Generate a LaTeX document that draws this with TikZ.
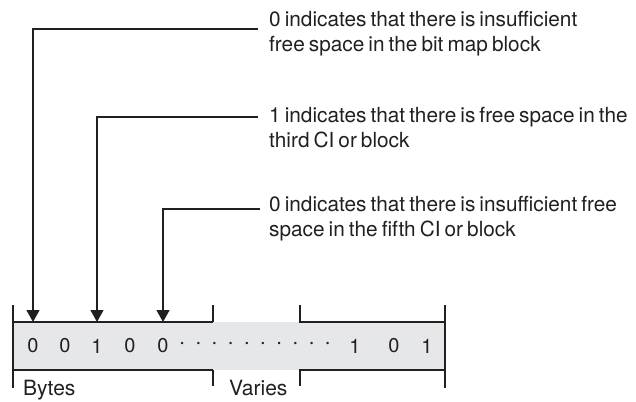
\documentclass[tikz,border=0pt]{standalone}
\usepackage{fontspec}
\setmainfont[WordSpace=0.7]{TeX Gyre Heros}
\usetikzlibrary{arrows.meta}
\definecolor{boxgray}{HTML}{E6E7E8}
\definecolor{ink}{HTML}{231F20}
\begin{document}
\begin{tikzpicture}[x=1pt,y=-1pt,
  ln/.style={line width=1.2pt, draw=ink},
  arr/.style={ln, -{Triangle[width=13pt,length=12pt]}},
  note/.style={anchor=base west, inner sep=0pt, align=left, text=ink,
    font=\fontsize{20.8}{25}\selectfont},
  bit/.style={inner sep=0pt, text=ink, font=\fontsize{20}{22}\selectfont},
  lab/.style={anchor=base west, inner sep=0pt, text=ink, font=\fontsize{21}{22}\selectfont}]
\useasboundingbox (0,0) rectangle (636,401);

% notes (anchor at baseline of last line)
\node[note] (t1) at (269,52) {0 indicates that there is insufficient\\free space in the bit map block};
\node[note] (t2) at (269,147) {1 indicates that there is free space in the\\third CI or block};
\node[note] (t3) at (269,236) {0 indicates that there is insufficient free\\space in the fifth CI or block};

% box
\node[fill=boxgray, minimum width=432pt, minimum height=48pt, inner sep=0pt, anchor=north west] (box) at (13,322) {};

% bits
\node[bit] (b1) at (33,346) {0};
\node[bit] (b2) at (65,346) {0};
\node[bit] (b3) at (97,346) {1};
\node[bit] (b4) at (130,346) {0};
\node[bit] (b5) at (163,346) {0};
\node[bit, font=\fontsize{24}{24}\selectfont] (dots) at (255,346) {\char"00B7\kern9.5pt\char"00B7\kern9.5pt\char"00B7\kern9.5pt\char"00B7\kern9.5pt\char"00B7\kern9.5pt\char"00B7\kern9.5pt\char"00B7\kern9.5pt\char"00B7\kern9.5pt\char"00B7\kern9.5pt\char"00B7};
\node[bit] (b6) at (355,346) {1};
\node[bit] (b7) at (394,346) {0};
\node[bit] (b8) at (427,346) {1};

% borders
\draw[ln] (13,305) -- (13,388);
\draw[ln] (445,305) -- (445,388);
\draw[ln] (13,322) -- (213,322) (213,305) -- (213,322);
\draw[ln] (13,370) -- (213,370) (213,370) -- (213,386);
\draw[ln] (300,305) -- (300,322) -- (445,322);
\draw[ln] (300,386) -- (300,370) -- (445,370);

% labels
\node[lab] (bytes) at (23,395) {Bytes};
\node[lab] (varies) at (229,395) {Varies};

% leaders
\coordinate (s1) at (258,29);
\coordinate (s2) at (258,117);
\coordinate (s3) at (260,209);
\draw[arr] (s1) -| (b1 |- box.north);
\draw[arr] (s2) -| (b3 |- box.north);
\draw[arr] (s3) -| (b5 |- box.north);
\end{tikzpicture}
\end{document}
